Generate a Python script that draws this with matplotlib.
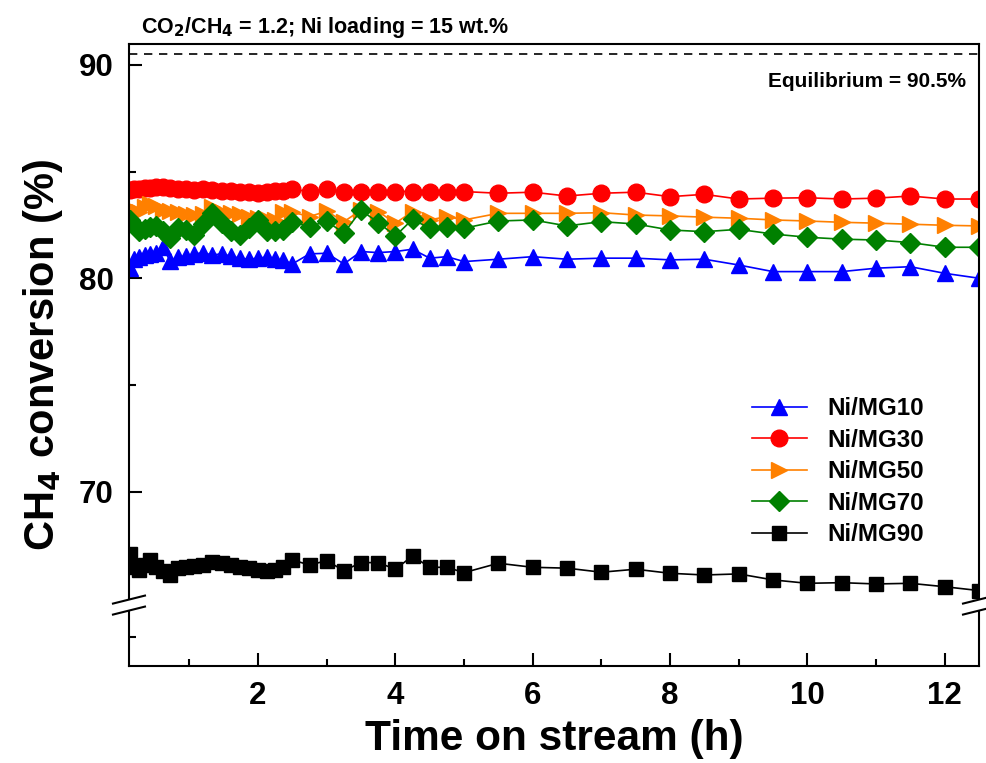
import matplotlib
matplotlib.use("Agg")
import matplotlib.pyplot as plt
from matplotlib.patches import Polygon
from matplotlib.lines import Line2D
from matplotlib.ticker import FixedLocator

plt.rcParams['font.family'] = ['Liberation Sans', 'DejaVu Sans']
plt.rcParams['font.weight'] = 'bold'
plt.rcParams['mathtext.default'] = 'bf'

time_h = [0.13, 0.2, 0.27, 0.35, 0.43, 0.52, 0.62, 0.72, 0.83, 0.95, 1.07, 1.2, 1.33, 1.47,
          1.6, 1.73, 1.87, 2.0, 2.13, 2.25, 2.37,
          2.5, 2.75, 3.0, 3.25, 3.5, 3.75, 4.0, 4.25, 4.5, 4.75, 5.0, 5.5, 6.0, 6.5, 7.0,
          7.5, 8.0, 8.5, 9.0, 9.5, 10.0, 10.5, 11.0, 11.5, 12.0, 12.5]

mg10 = [80.5, 80.9, 81.0, 81.1, 81.15, 81.2, 81.45, 80.8, 81.0, 81.05, 81.15, 81.2, 81.1, 81.15,
        81.05, 80.95, 80.9, 80.95, 81.0, 80.9, 80.85,
        80.68, 81.15, 81.18, 80.68, 81.26, 81.21, 81.26, 81.37, 80.95, 81.02, 80.79, 80.9, 81.02,
        80.9, 80.95, 80.95, 80.87, 80.9, 80.63, 80.32, 80.32, 80.32, 80.48, 80.55, 80.24, 80.01]

mg30 = [84.15, 84.2, 84.2, 84.25, 84.25, 84.3, 84.3, 84.25, 84.2, 84.2, 84.15, 84.2, 84.15, 84.1,
        84.1, 84.05, 84.05, 84.0, 84.05, 84.1, 84.1,
        84.18, 84.07, 84.18, 84.07, 84.07, 84.07, 84.07, 84.07, 84.07, 84.07, 84.07, 83.99, 84.04,
        83.86, 83.99, 84.04, 83.83, 83.94, 83.72, 83.76, 83.78, 83.72, 83.76, 83.86, 83.72, 83.72]

mg50 = [83.0, 83.2, 83.1, 83.35, 83.5, 83.4, 83.2, 83.15, 83.1, 83.0, 82.95, 83.0, 83.35, 83.1,
        83.05, 83.0, 82.9, 82.85, 82.8, 82.75, 83.1,
        83.1, 82.9, 83.15, 82.66, 83.2, 83.13, 82.59, 83.13, 82.74, 82.9, 82.74, 83.05, 83.05,
        83.05, 83.08, 82.97, 82.93, 82.87, 82.82, 82.74, 82.69, 82.63, 82.59, 82.54, 82.49, 82.46]

mg70 = [82.75, 82.5, 82.2, 82.3, 82.4, 82.45, 82.2, 81.9, 82.35, 82.25, 82.05, 82.55, 83.05, 82.6,
        82.2, 82.05, 82.35, 82.74, 82.2, 82.2, 82.27,
        82.64, 82.43, 82.68, 82.12, 83.19, 82.62, 81.99, 82.77, 82.35, 82.43, 82.35, 82.69, 82.74,
        82.46, 82.66, 82.55, 82.27, 82.19, 82.30, 82.08, 81.93, 81.84, 81.80, 81.68, 81.46, 81.46]

mg90 = [67.1, 66.5, 66.35, 66.6, 66.8, 66.5, 66.3, 66.1, 66.45, 66.5, 66.55, 66.6, 66.7, 66.65,
        66.6, 66.5, 66.45, 66.35, 66.3, 66.35, 66.5,
        66.81, 66.58, 66.78, 66.31, 66.69, 66.69, 66.38, 67.0, 66.47, 66.47, 66.22, 66.66, 66.47,
        66.43, 66.24, 66.38, 66.19, 66.11, 66.16, 65.88, 65.72, 65.75, 65.69, 65.72, 65.56, 65.38]

labels = ['Ni/MG10', 'Ni/MG30', 'Ni/MG50', 'Ni/MG70', 'Ni/MG90']
series = [mg10, mg30, mg50, mg70, mg90]
colors = ['#0000FF', '#FF0000', '#FF8000', '#008000', '#000000']
markers = ['^', 'o', '>', 'D', 's']
msizes = [12, 12, 12, 10, 10]

equilibrium = 90.5
y_major = [70, 80, 90]
y_minor = [63.2, 75, 85]
x_major = [2, 4, 6, 8, 10, 12]
x_minor = [1, 3, 5, 7, 9, 11]
y_break = 64.7

fig = plt.figure(figsize=(9.86, 7.63), dpi=100)
ax = fig.add_axes([0.1308, 0.1275, 0.8621, 0.8148])

for lab, ys, c, m, ms in zip(labels, series, colors, markers, msizes):
    ax.plot(time_h, ys, color=c, marker=m, markersize=ms, linewidth=1.2,
            markeredgecolor=c, label=lab, clip_on=True)

ax.axhline(equilibrium, color='black', linestyle=(0, (5, 4)), linewidth=1.2)

ax.set_xlim(0.12, 12.5)
ax.set_ylim(61.86, 90.98)
ax.set_xticks(x_major)
ax.xaxis.set_minor_locator(FixedLocator(x_minor))
ax.set_yticks(y_major)
ax.yaxis.set_minor_locator(FixedLocator(y_minor))
ax.tick_params(which='both', direction='in', top=False, right=False, width=1.5)
ax.tick_params(which='major', length=9.5, labelsize=22.5, pad=11)
ax.tick_params(which='minor', length=5)
for lbl in ax.get_xticklabels() + ax.get_yticklabels():
    lbl.set_fontweight('bold')
for sp in ax.spines.values():
    sp.set_linewidth(1.5)

ax.set_xlabel('Time on stream (h)', fontsize=30.5, fontweight='bold', labelpad=6)
ax.set_ylabel('CH$_4$ conversion (%)', fontsize=30, fontweight='bold', labelpad=10)

ax.text(0.014, 1.0177, 'CO$_2$/CH$_4$ = 1.2; Ni loading = 15 wt.%', transform=ax.transAxes,
        fontsize=15.5, fontweight='bold', ha='left', va='baseline')
ax.text(0.985, 0.94, 'Equilibrium = 90.5%', transform=ax.transAxes,
        fontsize=15, fontweight='bold', ha='right', va='center')

leg = ax.legend(loc='upper left', bbox_to_anchor=(0.733, 0.432), frameon=False,
                prop={'weight': 'bold', 'size': 17.4}, handlelength=2.27,
                handletextpad=0.83, labelspacing=0.35, borderpad=0, borderaxespad=0)

# axis break marks
y0, y1 = ax.get_ylim()
yc = (y_break - y0) / (y1 - y0)
W = 0.8621 * 986
H = 0.8148 * 763
dx = 16 / W
dy = 4 / H
gap = 5.5 / H
for xa in (0.0, 1.0):
    poly = Polygon([(xa - dx, yc - gap - dy), (xa + dx, yc - gap + dy),
                    (xa + dx, yc + gap + dy), (xa - dx, yc + gap - dy)],
                   closed=True, transform=ax.transAxes, facecolor='white',
                   edgecolor='none', clip_on=False, zorder=10)
    ax.add_patch(poly)
    for s in (-1, 1):
        ln = Line2D([xa - dx, xa + dx], [yc + s * gap - dy, yc + s * gap + dy],
                    transform=ax.transAxes, color='black', linewidth=1.5,
                    clip_on=False, zorder=11)
        ax.add_line(ln)

fig.savefig('out.png', dpi=100)
